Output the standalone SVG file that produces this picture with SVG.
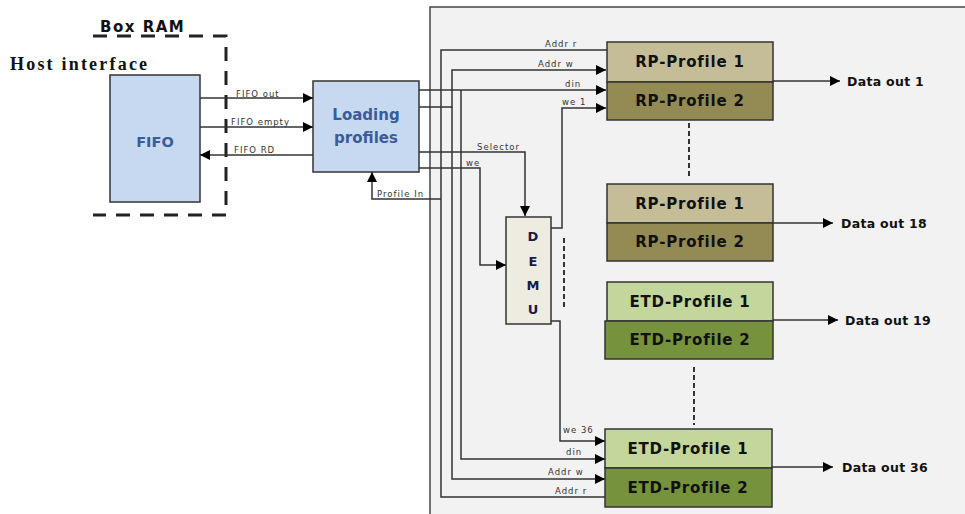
<svg xmlns="http://www.w3.org/2000/svg" width="965" height="514" viewBox="0 0 965 514">
<defs>
<marker id="ah" viewBox="0 0 10 10" refX="10" refY="5" markerWidth="10" markerHeight="10" markerUnits="userSpaceOnUse" orient="auto">
<path d="M0,0 L10,5 L0,10 Z" fill="#000"/>
</marker>
<style>
.ln{fill:none;stroke:#333;stroke-width:1.5}
.arr{marker-end:url(#ah)}
.sm{font-family:"DejaVu Sans",Verdana,sans-serif;font-size:8.5px;fill:#333;letter-spacing:1px}
.blk{stroke:#333;stroke-width:1.5}
.pt{font-family:"DejaVu Sans",Verdana,sans-serif;font-size:15px;font-weight:bold;fill:#111;text-anchor:middle;letter-spacing:0.8px}
.dout{font-family:"DejaVu Sans",Verdana,sans-serif;font-size:12.5px;font-weight:bold;fill:#111;letter-spacing:0.3px}
.dash{stroke:#333;stroke-width:2;stroke-dasharray:5 3;fill:none}
.blue{font-family:"DejaVu Sans",Verdana,sans-serif;font-weight:bold;fill:#3b5c96;text-anchor:middle}
</style>
</defs>
<rect width="965" height="514" fill="#fff"/>
<rect x="430" y="7" width="545" height="520" fill="#f2f2f2" stroke="#444" stroke-width="1.5"/>

<g id="box-ram">
<path d="M93,36 H226 V215 H93" fill="none" stroke="#222" stroke-width="3" stroke-dasharray="14 10"/>
<text x="100" y="32" font-family="DejaVu Sans,Verdana,sans-serif" font-size="15" font-weight="bold" fill="#111" letter-spacing="1.5">Box RAM</text>
</g>
<text x="10" y="70" font-family="Liberation Serif,Times New Roman,serif" font-size="18" font-weight="bold" fill="#111" letter-spacing="2.2">Host interface</text>

<g id="fifo">
<rect x="110" y="75" width="90" height="127" fill="#c6d9f1" class="blk"/>
<text x="155" y="147" class="blue" font-size="14.5">FIFO</text>
</g>
<g id="loading">
<rect x="313" y="81" width="106" height="91" fill="#c6d9f1" class="blk"/>
<text x="366" y="120" class="blue" font-size="15">Loading</text>
<text x="366" y="143" class="blue" font-size="15">profiles</text>
</g>
<g id="demu">
<rect x="506" y="217" width="45" height="107" fill="#eeece1" class="blk"/>
<g font-family="DejaVu Sans,Verdana,sans-serif" font-size="13" font-weight="bold" fill="#1a1a4a" text-anchor="middle">
<text x="533" y="241">D</text><text x="533" y="266">E</text><text x="533" y="290">M</text><text x="533" y="314">U</text>
</g>
</g>

<g id="rp1">
<rect x="607" y="42" width="166" height="40" fill="#c4bd97" class="blk"/>
<rect x="607" y="82" width="166" height="38" fill="#948a54" class="blk"/>
<text x="690" y="67" class="pt">RP-Profile 1</text>
<text x="690" y="106" class="pt">RP-Profile 2</text>
</g>
<g id="rp18">
<rect x="607" y="184" width="166" height="39" fill="#c4bd97" class="blk"/>
<rect x="607" y="223" width="166" height="38" fill="#948a54" class="blk"/>
<text x="690" y="209" class="pt">RP-Profile 1</text>
<text x="690" y="247" class="pt">RP-Profile 2</text>
</g>
<g id="etd19">
<rect x="607" y="282" width="166" height="39" fill="#c3d69b" class="blk"/>
<rect x="605" y="321" width="168" height="38" fill="#76923c" class="blk"/>
<text x="690" y="307" class="pt">ETD-Profile 1</text>
<text x="690" y="345" class="pt">ETD-Profile 2</text>
</g>
<g id="etd36">
<rect x="605" y="429" width="167" height="39" fill="#c3d69b" class="blk"/>
<rect x="605" y="468" width="167" height="39" fill="#76923c" class="blk"/>
<text x="688" y="454" class="pt">ETD-Profile 1</text>
<text x="688" y="493" class="pt">ETD-Profile 2</text>
</g>

<g id="connectors">
<path class="ln arr" d="M200,98 H313"/>
<path class="ln arr" d="M200,127 H313"/>
<path class="ln arr" d="M313,155 H200"/>
<text x="236" y="97" class="sm">FIFO out</text>
<text x="231" y="125" class="sm">FIFO empty</text>
<text x="234" y="153" class="sm">FIFO RD</text>

<path class="ln arr" d="M441,199 H372 V172"/>
<text x="377" y="197" class="sm">Profile In</text>

<path class="ln" d="M607,50 H441 V497 H605"/>
<path class="ln arr" d="M419,107 H452 V70 H606"/>
<path class="ln arr" d="M452,107 V479 H605"/>
<path class="ln arr" d="M419,90 H606"/>
<path class="ln arr" d="M461,90 V459 H605"/>
<path class="ln arr" d="M419,152 H525 V216"/>
<path class="ln arr" d="M419,168 H480 V265 H506"/>
<path class="ln arr" d="M551,228 H562 V108 H606"/>
<path class="ln arr" d="M551,321 H560 V441 H605"/>

<text x="545" y="47" class="sm">Addr r</text>
<text x="538" y="67" class="sm">Addr w</text>
<text x="565" y="87" class="sm">din</text>
<text x="562" y="105" class="sm">we 1</text>
<text x="477" y="150" class="sm">Selector</text>
<text x="466" y="166" class="sm">we</text>
<text x="563" y="433" class="sm">we 36</text>
<text x="566" y="455" class="sm">din</text>
<text x="548" y="475" class="sm">Addr w</text>
<text x="555" y="494" class="sm">Addr r</text>

<path class="ln arr" d="M773,81 H840"/>
<path class="ln arr" d="M773,223 H833"/>
<path class="ln arr" d="M773,320 H838"/>
<path class="ln arr" d="M772,467 H833"/>
<text x="847" y="86" class="dout">Data out 1</text>
<text x="841" y="228" class="dout">Data out 18</text>
<text x="845" y="325" class="dout">Data out 19</text>
<text x="842" y="472" class="dout">Data out 36</text>

<path class="dash" d="M689,123 V178"/>
<path class="dash" d="M694,367 V425"/>
<path class="dash" d="M564,238 V307"/>
</g>
</svg>
